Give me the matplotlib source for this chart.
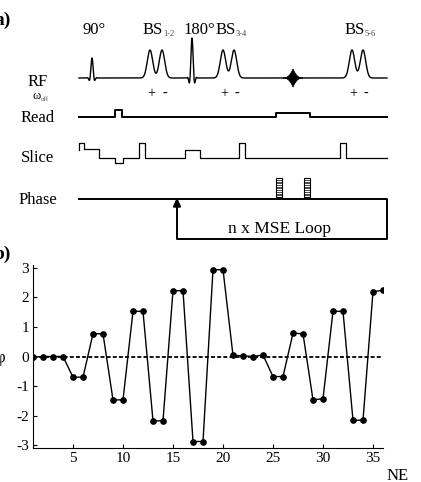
import numpy as np
import matplotlib
matplotlib.use("Agg")
import matplotlib.pyplot as plt
from matplotlib.patches import Rectangle, Polygon

plt.rcParams["font.family"] = ["Liberation Serif", "DejaVu Serif"]
plt.rcParams["axes.unicode_minus"] = False

W, H = 421, 482

# ---- panel b data: phase per echo number ----
echo_number = list(range(1, 37))
echo_phase = [-0.02, 0.0, 0.0, 0.0, -0.7, -0.7, 0.77, 0.77, -1.47, -1.47,
              1.53, 1.53, -2.18, -2.18, 2.23, 2.23, -2.88, -2.88, 2.94, 2.94,
              0.04, 0.02, 0.0, 0.05, -0.68, -0.68, 0.79, 0.77, -1.47, -1.43,
              1.53, 1.53, -2.16, -2.16, 2.2, 2.24]
y_ticks = [-3, -2, -1, 0, 1, 2, 3]
x_ticks = [5, 10, 15, 20, 25, 30, 35]

# ---- panel a data: sequence diagram timing (diagram units) ----
t_start, t_end = 79, 387
rf_base, read_base, slice_base, phase_base = 78, 117, 158, 199
sinc_pulses = [(92, 20, 2.0), (192, 40, 2.0)]          # centre, height, width
bs_pairs = [(150, 162), (223, 234), (352, 363)]
bs_height, bs_sigma = 28, 2.7
echo_centre = 293
read_pts = [(79, 0), (115, 0), (115, -7), (122, -7), (122, 0), (276, 0),
            (276, -4), (310, -4), (310, 0), (387, 0)]
slice_pts = [(79, -8), (79, -15), (84, -15), (84, -9), (99, -9), (99, 0),
             (115, 0), (115, 5), (123, 5), (123, 0), (139, 0), (139, -15),
             (145, -15), (145, 0), (185, 0), (185, -8), (200, -8), (200, 0),
             (239, 0), (239, -15), (245, -15), (245, 0), (340, 0), (340, -15),
             (346, -15), (346, 0), (387, 0)]
phase_blips = [276, 304]
loop_left, loop_bottom = 177, 239

fig = plt.figure(figsize=(W / 100, H / 100), dpi=100)
ov = fig.add_axes([0, 0, 1, 1])
ov.set_xlim(0, W)
ov.set_ylim(H, 0)
ov.axis("off")

# RF line
t = np.linspace(t_start, t_end, 4000)
rf = np.zeros_like(t)
for c, h, w in sinc_pulses:
    half = 3 * w
    m = np.abs(t - c) < half
    win = 0.5 * (1 + np.cos(np.pi * (t[m] - c) / half))
    rf[m] += h * np.sinc((t[m] - c) / w) * win
for a, b in bs_pairs:
    for c in (a, b):
        rf += bs_height * np.exp(-((t - c) ** 2) / (2 * bs_sigma ** 2))
ov.plot(t, rf_base - rf, color="black", lw=1.0)
# echo
u = np.linspace(-1, 1, 101)
ex = echo_centre + 10 * u
ey = 9 * (1 - np.abs(u)) ** 2.5
ov.add_patch(Polygon(np.c_[np.r_[ex, ex[::-1]], np.r_[rf_base - ey, (rf_base + ey)[::-1]]],
                     closed=True, color="black", lw=0.5))

# gradients
rx, ry = zip(*read_pts)
ov.plot(rx, read_base + np.array(ry), color="black", lw=1.4)
sx, sy = zip(*slice_pts)
ov.plot(sx, slice_base + np.array(sy), color="black", lw=0.9)
ov.plot([t_start, t_end, t_end, loop_left, loop_left],
        [phase_base, phase_base, loop_bottom, loop_bottom, phase_base + 6],
        color="black", lw=1.4)
ov.add_patch(Polygon([[loop_left - 3.5, phase_base + 8], [loop_left + 3.5, phase_base + 8],
                      [loop_left, phase_base]], closed=True, color="black"))
for bx in phase_blips:
    ov.add_patch(Rectangle((bx, 178), 6, 19, fill=False, ec="black", lw=0.8))
    for yy in np.arange(180, 197, 1.7):
        ov.plot([bx, bx + 6], [yy, yy], color="black", lw=0.5)

fs = 12
ov.text(280, 233, "n x MSE Loop", fontsize=12.5, ha="center", va="baseline")
for txt, yy in [("RF", 86), ("Read", 122), ("Slice", 162), ("Phase", 204)]:
    ov.text(38, yy, txt, fontsize=fs, ha="center", va="baseline")
ov.text(41, 99, "ω", fontsize=9, ha="right", va="baseline")
ov.text(41, 101, "off", fontsize=5, ha="left", va="baseline", color="#555555")
ov.text(94, 34, "90°", fontsize=fs, ha="center", va="baseline")
ov.text(199, 34, "180°", fontsize=fs, ha="center", va="baseline")
for (a, b), sub in zip(bs_pairs, ["1-2", "3-4", "5-6"]):
    xr = (a + b) / 2 + 7
    ov.text(xr, 34, "BS", fontsize=fs, ha="right", va="baseline")
    ov.text(xr + 0.5, 36, sub, fontsize=6, ha="left", va="baseline", color="#444444")
    ov.text(a + 1, 97, "+", fontsize=10, ha="center", va="baseline")
    ov.text(b + 3, 97, "-", fontsize=10, ha="center", va="baseline")

# panel labels (cut by the left edge)
ov.text(11, 25, "a)", fontsize=14, fontweight="bold", ha="right", va="baseline")
ov.text(11, 259, "b)", fontsize=14, fontweight="bold", ha="right", va="baseline")
ov.text(0, 362, "φ", fontsize=12, ha="center", va="baseline")
ov.text(387, 480, "NE", fontsize=fs, ha="left", va="baseline")

# ---- panel b ----
left, right, top, bottom = 33, 383, 265, 448
ax = fig.add_axes([left / W, 1 - bottom / H, (right - left) / W, (bottom - top) / H])
ax.axhline(0, color="black", lw=1.3, linestyle=(0, (2.2, 1.2)))
ax.plot(echo_number, echo_phase, color="black", lw=1.0, marker="o", markersize=3.8)
ax.set_xlim(1, 36)
ax.set_ylim(-3.1, 3.1)
ax.set_xticks(x_ticks)
ax.set_yticks(y_ticks)
ax.spines["top"].set_visible(False)
ax.spines["right"].set_visible(False)
ax.tick_params(direction="in", length=3, width=0.8, labelsize=11, pad=3)
ax.patch.set_visible(False)

fig.savefig("out.png", dpi=100)
